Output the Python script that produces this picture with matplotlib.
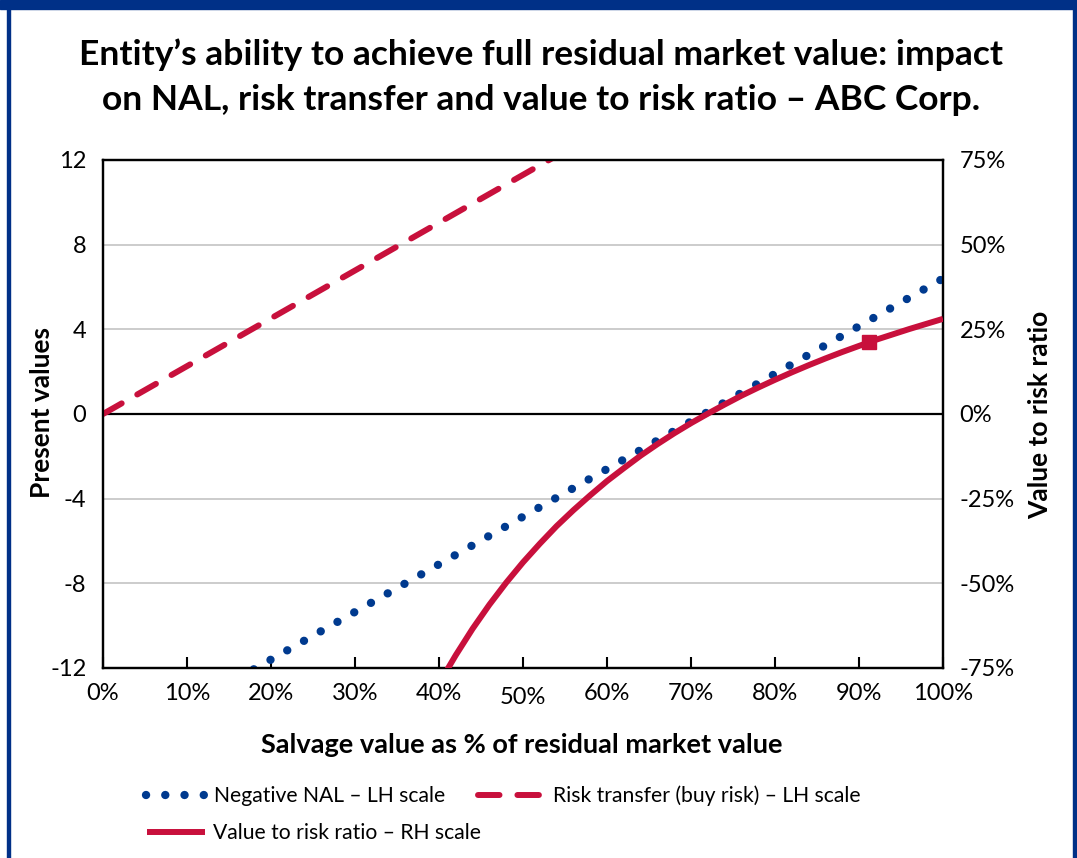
import matplotlib
matplotlib.use("Agg")
import matplotlib.pyplot as plt
from matplotlib.lines import Line2D
from matplotlib.patches import Rectangle
from matplotlib.transforms import ScaledTranslation

plt.rcParams['font.family'] = ['Lato', 'DejaVu Sans']
plt.rcParams['axes.unicode_minus'] = False

# ---------------- data ----------------
salvage_pct = [0, 10, 20, 30, 40, 50, 60, 70, 80, 90, 100]
negative_nal = [-16.1, -13.85, -11.6, -9.35, -7.1, -4.85, -2.6, -0.35, 1.9, 4.15, 6.4]
risk_transfer = [0.0, 2.26, 4.52, 6.78, 9.04, 11.3, 13.56, 15.82, 18.08, 20.34, 22.6]

ratio_x = [41, 42, 44, 46, 48, 50, 52, 54, 56, 58, 60, 62, 64, 66, 68, 70,
           72, 74, 76, 78, 80, 82, 84, 86, 88, 90, 92, 94, 96, 98, 100]
value_to_risk = [-75.4, -71.2, -63.4, -56.3, -49.8, -43.8, -38.3, -33.1, -28.4,
                 -24.0, -19.8, -16.0, -12.3, -8.9, -5.7, -2.7, 0.1, 2.8, 5.4,
                 7.8, 10.1, 12.3, 14.4, 16.4, 18.3, 20.1, 21.9, 23.5, 25.1,
                 26.6, 28.1]
marker_x = [91.2]
marker_y = [21.4]

left_ticks = [-12, -8, -4, 0, 4, 8, 12]
right_ticks = [-75, -50, -25, 0, 25, 50, 75]
x_ticks = [0, 10, 20, 30, 40, 50, 60, 70, 80, 90, 100]

title_lines = ["Entity\u2019s ability to achieve full residual market value: impact",
               "on NAL, risk transfer and value to risk ratio \u2013 ABC Corp."]
legend_labels = ["Negative NAL \u2013 LH scale",
                 "Risk transfer (buy risk) \u2013 LH scale",
                 "Value to risk ratio \u2013 RH scale"]

# ---------------- style ----------------
W, H = 1077, 858
BLUE = '#003087'
DOT_BLUE = '#003A8F'
RED = '#C8103C'
GRID = '#C8C8C8'

DOT_STYLE = dict(color=DOT_BLUE, lw=6.0, linestyle=(0, (0.01, 2.3)),
                 dash_capstyle='round')
DASH_STYLE = dict(color=RED, lw=4.3, linestyle=(0, (3.6, 3.0)),
                  dash_capstyle='round')
SOLID_STYLE = dict(color=RED, lw=4.3, solid_capstyle='butt')

fig = plt.figure(figsize=(W / 100, H / 100), dpi=100)
fig.patch.set_facecolor('white')

# outer frame
fig.add_artist(Rectangle((0, 1 - 9 / H), 1, 9 / H, transform=fig.transFigure,
                         color=BLUE, zorder=10))
fig.add_artist(Rectangle((7 / W, 0), 3 / W, 1, transform=fig.transFigure,
                         color=BLUE, zorder=10))
fig.add_artist(Rectangle((1073 / W, 0), 4 / W, 1, transform=fig.transFigure,
                         color=BLUE, zorder=10))

ax = fig.add_axes([103 / W, 1 - 668 / H, 840 / W, 508 / H])
ax.set_xlim(0, 100)
ax.set_ylim(-12, 12)
ax.set_yticks(left_ticks)
ax.set_yticklabels([str(t) for t in left_ticks])
ax.set_xticks(x_ticks)
ax.set_xticklabels([f"{t}%" for t in x_ticks])
ax.tick_params(axis='y', length=0, pad=12, labelsize=17)
ax.tick_params(axis='x', direction='in', length=8, width=1.5, pad=11,
               labelsize=17)
for s in ax.spines.values():
    s.set_linewidth(1.6)
    s.set_color('black')
for t in [-8, -4, 4, 8]:
    ax.axhline(t, color=GRID, lw=1.3, zorder=0.5)
ax.axhline(0, color='black', lw=1.6, zorder=1)

ax.plot(salvage_pct, negative_nal, zorder=3, **DOT_STYLE)
ax.plot(salvage_pct, risk_transfer, zorder=3, **DASH_STYLE)

ax2 = ax.twinx()
ax2.set_ylim(-75, 75)
ax2.set_yticks(right_ticks)
ax2.set_yticklabels([f"{t}%" for t in right_ticks])
ax2.tick_params(axis='y', length=0, pad=12, labelsize=17)
for s in ax2.spines.values():
    s.set_linewidth(1.6)
ax2.plot(ratio_x, value_to_risk, zorder=3, **SOLID_STYLE)
ax2.plot(marker_x, marker_y, marker='s', ms=10, color=RED, lw=0, zorder=4)

# quirk: the 50% label sits a little lower
ticks = ax.xaxis.get_major_ticks()
lab50 = ticks[5].label1
lab50.set_transform(lab50.get_transform() +
                    ScaledTranslation(0, -4 / 100, fig.dpi_scale_trans))

# labels
fig.text(42 / W, 1 - 413 / H, "Present values", rotation=90, ha='center',
         va='center', fontsize=19, fontweight='bold')
fig.text(1040 / W, 1 - 415 / H, "Value to risk ratio", rotation=90,
         ha='center', va='center', fontsize=19, fontweight='bold')
fig.text(522 / W, 1 - 745 / H, "Salvage value as % of residual market value",
         ha='center', va='center', fontsize=19.5, fontweight='bold')
fig.text(541 / W, 1 - 55 / H, title_lines[0], ha='center', va='center',
         fontsize=25.5, fontweight='bold')
fig.text(541 / W, 1 - 100 / H, title_lines[1], ha='center', va='center',
         fontsize=25.5, fontweight='bold')

# legend (manual placement)
def fx(px):
    return px / W

def fy(py):
    return 1 - py / H

fig.add_artist(Line2D([fx(146), fx(206)], [fy(795), fy(795)],
                      transform=fig.transFigure, **DOT_STYLE))
fig.text(fx(214), fy(796), legend_labels[0], ha='left', va='center',
         fontsize=15.2)
fig.add_artist(Line2D([fx(478), fx(541)], [fy(795), fy(795)],
                      transform=fig.transFigure, **DASH_STYLE))
fig.text(fx(553), fy(796), legend_labels[1], ha='left', va='center',
         fontsize=15.2)
fig.add_artist(Line2D([fx(147), fx(205)], [fy(832), fy(832)],
                      transform=fig.transFigure, **SOLID_STYLE))
fig.text(fx(213), fy(833), legend_labels[2], ha='left', va='center',
         fontsize=15.2)

fig.savefig("out.png", dpi=100)
